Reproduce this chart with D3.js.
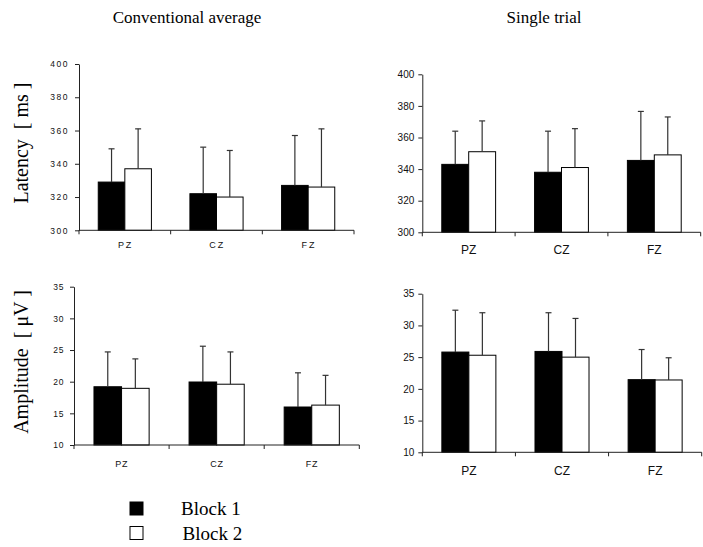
<!DOCTYPE html>
<html lang="en">
<head>
    <meta charset="UTF-8">
    <title>latency and amplitude</title>
    <script src="https://cdn.jsdelivr.net/npm/d3@7"></script>
    <style>
        body { margin: 0; background: white; }
    </style>
</head>
<body>
    <script>

    //chart data
    const channels = ["PZ", "CZ", "FZ"]
    const blocks = ["Block 1", "Block 2"]

    //latency [ms], conventional average
    const latConvBlock1 = [329, 322, 327]
    const latConvBlock1Sd = [20, 28, 30]
    const latConvBlock2 = [337, 320, 326]
    const latConvBlock2Sd = [24, 28, 35]

    //latency [ms], single trial
    const latSingleBlock1 = [343, 338, 345.5]
    const latSingleBlock1Sd = [21, 26, 31]
    const latSingleBlock2 = [351, 341, 349]
    const latSingleBlock2Sd = [19.5, 24.6, 24]

    //amplitude [uV], conventional average
    const ampConvBlock1 = [19.2, 19.95, 16.0]
    const ampConvBlock1Sd = [5.5, 5.65, 5.4]
    const ampConvBlock2 = [18.95, 19.6, 16.3]
    const ampConvBlock2Sd = [4.65, 5.1, 4.7]

    //amplitude [uV], single trial
    const ampSingleBlock1 = [25.8, 25.9, 21.45]
    const ampSingleBlock1Sd = [6.6, 6.1, 4.75]
    const ampSingleBlock2 = [25.3, 25.0, 21.4]
    const ampSingleBlock2Sd = [6.7, 6.1, 3.5]

    const latTicks = [300, 320, 340, 360, 380, 400]
    const ampTicks = [10, 15, 20, 25, 30, 35]

    const columnTitles = ["Conventional average", "Single trial"]
    const rowTitles = ["Latency  [ ms ]", "Amplitude  [ \u03bcV ]"]

    const blockColor = d3.scaleOrdinal().domain(blocks).range(["#000000", "#ffffff"])

    var canvas = d3.select("body")
        .append("svg")
        .attr("width", 703)
        .attr("height", 547)

    //one small bar chart with upward error bars
    function drawPanel(p) {
        var x = d3.scaleBand()
            .domain(channels)
            .range([p.left, p.right])
            .paddingInner(0.42)
            .paddingOuter(0.21)

        var xBlock = d3.scaleBand()
            .domain(blocks)
            .range([0, x.bandwidth()])

        var y = d3.scaleLinear()
            .domain(d3.extent(p.ticks))
            .range([p.bottom, p.top])

        var rows = []
        channels.forEach(function (c, i) {
            rows.push({ ch: c, block: blocks[0], mean: p.b1[i], sd: p.b1sd[i] })
            rows.push({ ch: c, block: blocks[1], mean: p.b2[i], sd: p.b2sd[i] })
        })

        var g = canvas.append("g")

        //bars
        g.selectAll(".bar")
            .data(rows)
            .enter()
            .append("rect")
            .attr("class", "bar")
            .attr("x", d => x(d.ch) + xBlock(d.block))
            .attr("y", d => y(d.mean))
            .attr("width", xBlock.bandwidth())
            .attr("height", d => y(p.ticks[0]) - y(d.mean))
            .attr("fill", d => blockColor(d.block))
            .attr("stroke", "#000")
            .attr("stroke-width", 1)

        //error bars (upper only)
        var err = g.selectAll(".err")
            .data(rows)
            .enter()
            .append("g")
            .attr("class", "err")
            .attr("stroke", "#333")
            .attr("stroke-width", 1.2)

        err.append("line")
            .attr("x1", d => x(d.ch) + xBlock(d.block) + xBlock.bandwidth() / 2)
            .attr("x2", d => x(d.ch) + xBlock(d.block) + xBlock.bandwidth() / 2)
            .attr("y1", d => y(d.mean))
            .attr("y2", d => y(d.mean + d.sd))

        err.append("line")
            .attr("x1", d => x(d.ch) + xBlock(d.block) + xBlock.bandwidth() / 2 - 3)
            .attr("x2", d => x(d.ch) + xBlock(d.block) + xBlock.bandwidth() / 2 + 3)
            .attr("y1", d => y(d.mean + d.sd))
            .attr("y2", d => y(d.mean + d.sd))

        //y axis
        var yAxis = g.append("g")
            .attr("transform", "translate(" + p.left + ",0)")
            .call(d3.axisLeft(y).tickValues(p.ticks).tickSize(4).tickPadding(p.tickPad).tickSizeOuter(0))
        yAxis.select(".domain").attr("stroke", "#222")
        yAxis.selectAll(".tick line").attr("stroke", "#222")
        yAxis.selectAll("text")
            .attr("fill", "#111")
            .style("font-family", "Arial, 'Liberation Sans', sans-serif")
            .style("font-size", p.tickFont + "px")
            .style("letter-spacing", p.spacing + "px")

        //x axis: line with ticks at category boundaries
        var xAxis = g.append("g")
            .attr("transform", "translate(0," + p.bottom + ")")
        xAxis.append("line")
            .attr("x1", p.left)
            .attr("x2", p.right)
            .attr("stroke", "#222")
        var edges = channels.map(c => x(c) - x.step() * x.paddingOuter())
        edges.push(p.right)
        xAxis.selectAll(".edge")
            .data(edges)
            .enter()
            .append("line")
            .attr("x1", d => d)
            .attr("x2", d => d)
            .attr("y1", 0)
            .attr("y2", 4)
            .attr("stroke", "#222")
        xAxis.selectAll(".lab")
            .data(channels)
            .enter()
            .append("text")
            .attr("x", d => x(d) + x.bandwidth() / 2 + p.spacing / 2)
            .attr("y", p.labelY)
            .attr("text-anchor", "middle")
            .attr("fill", "#111")
            .style("font-family", "Arial, 'Liberation Sans', sans-serif")
            .style("font-size", p.labelFont + "px")
            .style("letter-spacing", p.spacing * 1.3 + "px")
            .text(d => d)
    }

    drawPanel({ left: 79, right: 354, top: 64, bottom: 230.3, ticks: latTicks,
        b1: latConvBlock1, b1sd: latConvBlock1Sd, b2: latConvBlock2, b2sd: latConvBlock2Sd,
        tickFont: 8.5, tickPad: 6, spacing: 1.5, labelFont: 9, labelY: 18 })
    drawPanel({ left: 422.3, right: 700.7, top: 74.3, bottom: 232.3, ticks: latTicks,
        b1: latSingleBlock1, b1sd: latSingleBlock1Sd, b2: latSingleBlock2, b2sd: latSingleBlock2Sd,
        tickFont: 10, tickPad: 4, spacing: 0, labelFont: 12, labelY: 22 })
    drawPanel({ left: 74, right: 359.3, top: 286.7, bottom: 445, ticks: ampTicks,
        b1: ampConvBlock1, b1sd: ampConvBlock1Sd, b2: ampConvBlock2, b2sd: ampConvBlock2Sd,
        tickFont: 8.5, tickPad: 6, spacing: 0.6, labelFont: 9, labelY: 22 })
    drawPanel({ left: 422.3, right: 701.7, top: 293.7, bottom: 452.3, ticks: ampTicks,
        b1: ampSingleBlock1, b1sd: ampSingleBlock1Sd, b2: ampSingleBlock2, b2sd: ampSingleBlock2Sd,
        tickFont: 10, tickPad: 4, spacing: 0, labelFont: 12, labelY: 23 })

    //column titles
    canvas.selectAll(".coltitle")
        .data(columnTitles)
        .enter()
        .append("text")
        .attr("x", (d, i) => i == 0 ? 187 : 544)
        .attr("y", 23)
        .attr("text-anchor", "middle")
        .style("font-family", "'Liberation Serif', 'Times New Roman', serif")
        .style("font-size", "17px")
        .text(d => d)

    //row titles (rotated)
    canvas.selectAll(".rowtitle")
        .data(rowTitles)
        .enter()
        .append("text")
        .attr("transform", (d, i) => "translate(28," + (i == 0 ? 143 : 362) + ") rotate(-90)")
        .attr("text-anchor", "middle")
        .style("font-family", "'Liberation Serif', 'Times New Roman', serif")
        .style("font-size", "20px")
        .style("white-space", "pre")
        .text(d => d)

    //legend
    var legend = canvas.append("g")
        .attr("transform", "translate(130,502)")
    var items = legend.selectAll(".legend-item")
        .data(blocks)
        .enter()
        .append("g")
        .attr("transform", (d, i) => "translate(0," + (i * 24.5) + ")")
    items.append("rect")
        .attr("width", 13)
        .attr("height", 13)
        .attr("fill", d => blockColor(d))
        .attr("stroke", "#000")
        .attr("stroke-width", 1)
    items.append("text")
        .attr("x", (d, i) => 51 + i * 1.5)
        .attr("y", 13)
        .style("font-family", "'Liberation Serif', 'Times New Roman', serif")
        .style("font-size", "19px")
        .text(d => d)

    </script>
</body>
</html>
